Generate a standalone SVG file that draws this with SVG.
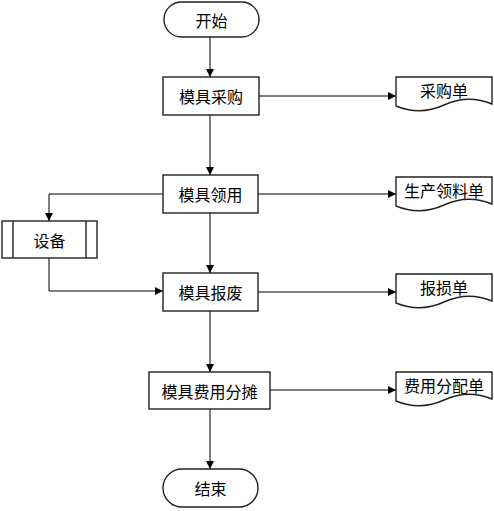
<svg xmlns="http://www.w3.org/2000/svg" width="494" height="511" viewBox="0 0 494 511">
<defs>
<marker id="arr" viewBox="0 0 10 10" refX="10" refY="5" markerWidth="8" markerHeight="8" markerUnits="userSpaceOnUse" orient="auto"><path d="M0,0 L10,5 L0,10 Z" fill="#000"/></marker>
<path id="docshape" d="M0,0 H96 V27 Q72,17 48,28 T0,29 Z"/>
</defs>
<style>
.shape{fill:#fff;stroke:#222;stroke-width:1.4}
.conn{fill:none;stroke:#000;stroke-width:1;marker-end:url(#arr)}
text{font-family:"Noto Sans CJK SC","Liberation Serif",serif;font-size:16px;text-anchor:middle;dominant-baseline:central;fill:#000}
</style>
<rect width="494" height="511" fill="#fff"/>
<g id="connectors">
<path class="conn" d="M210,37 V77"/>
<path class="conn" d="M210,115 V175"/>
<path class="conn" d="M210,213 V273"/>
<path class="conn" d="M210,311 V372"/>
<path class="conn" d="M210,409 V469"/>
<path class="conn" d="M259,96 H396"/>
<path class="conn" d="M258,194 H396"/>
<path class="conn" d="M258,292 H396"/>
<path class="conn" d="M270,390 H396"/>
<path class="conn" d="M163,194 H49 V221"/>
<path class="conn" d="M49,258 V291 H163"/>
</g>
<g id="start"><rect class="shape" x="164" y="2" width="95" height="35" rx="17.5"/><text x="211.5" y="19.5">开始</text></g>
<g id="caigou"><rect class="shape" x="163" y="77" width="96" height="38"/><text x="211" y="96">模具采购</text></g>
<g id="lingyong"><rect class="shape" x="163" y="175" width="95" height="38"/><text x="210.5" y="194">模具领用</text></g>
<g id="baofei"><rect class="shape" x="163" y="273" width="95" height="38"/><text x="210.5" y="292">模具报废</text></g>
<g id="fentan"><rect class="shape" x="149" y="372" width="121" height="37"/><text x="209.5" y="390.5">模具费用分摊</text></g>
<g id="end"><rect class="shape" x="163" y="469" width="95" height="38" rx="19"/><text x="210.5" y="488">结束</text></g>
<g id="shebei"><rect class="shape" x="2" y="221" width="95" height="37"/><path class="shape" d="M13,221 V258 M86,221 V258"/><text x="49.5" y="239.5">设备</text></g>
<g id="doc1"><use href="#docshape" class="shape" x="396" y="77"/><text x="444" y="90">采购单</text></g>
<g id="doc2"><use href="#docshape" class="shape" x="396" y="177"/><text x="444" y="190">生产领料单</text></g>
<g id="doc3"><use href="#docshape" class="shape" x="396" y="274"/><text x="444" y="287">报损单</text></g>
<g id="doc4"><use href="#docshape" class="shape" x="396" y="372"/><text x="444" y="385">费用分配单</text></g>
</svg>
